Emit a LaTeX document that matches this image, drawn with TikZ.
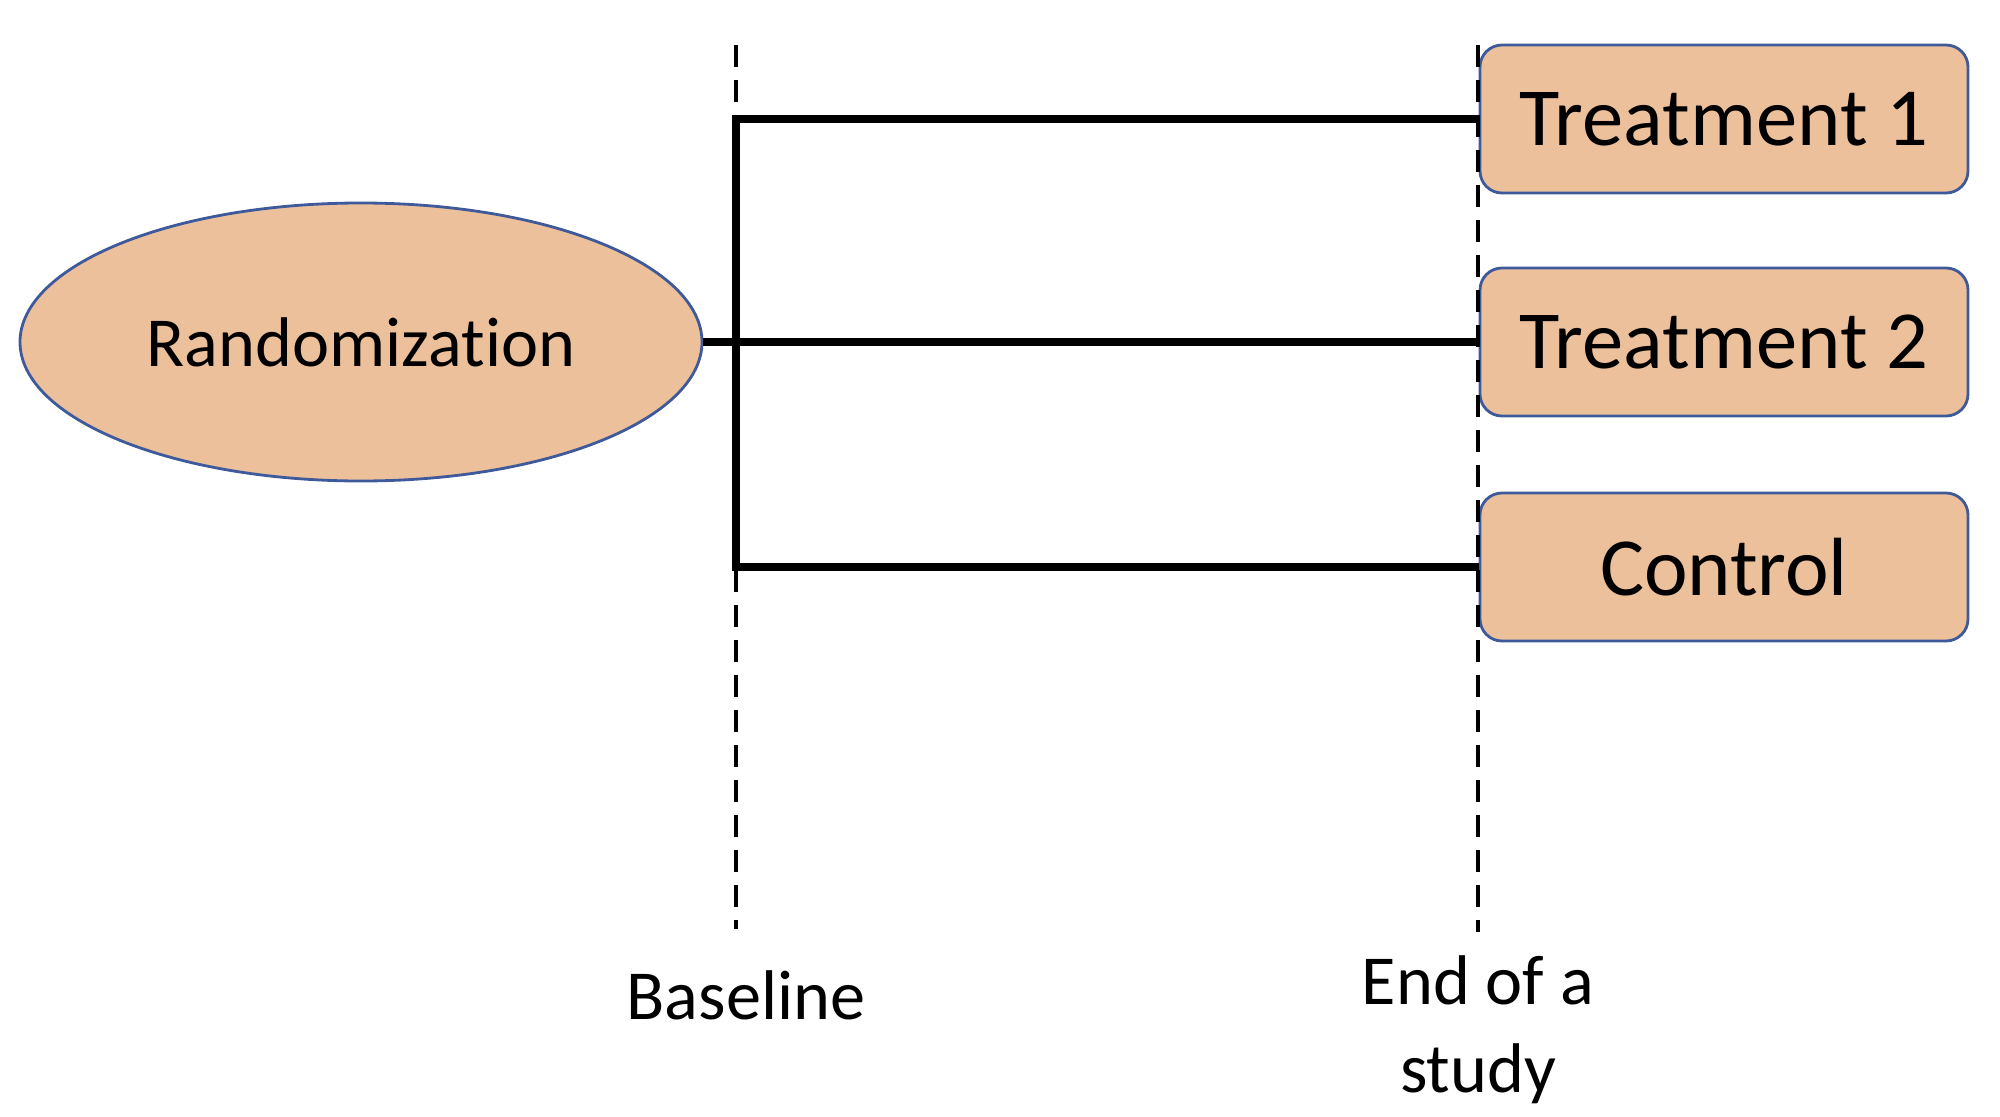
\documentclass[tikz,border=0pt]{standalone}
\usepackage{fontspec}
\setmainfont{Carlito}[Ligatures={NoCommon}]
\usetikzlibrary{shapes.geometric,positioning}
\definecolor{peach}{HTML}{EDC09C}
\definecolor{rim}{HTML}{3F5A9A}
\tikzset{
  arm/.style={rounded corners=0.22cm, draw=rim, fill=peach, line width=0.8pt, minimum width=4.88cm, minimum height=1.48cm, font=\fontsize{23.5}{28}\selectfont},
  guide/.style={line width=1.3pt, dash pattern=on 0.22cm off 0.13cm},
  link/.style={line width=2.3pt}
}
\begin{document}
\begin{tikzpicture}
          \useasboundingbox (0, 0) rectangle (20, 11.16);

          \node[ellipse, draw=rim, fill=peach, line width=0.8pt, minimum width=6.82cm, minimum height=2.78cm, font=\fontsize{20}{24}\selectfont] (rand) at (3.61, 7.74) {Randomization};

          \node[arm] (t1) at (17.24, 9.97) {Treatment 1};
          \node[arm] (t2) at (17.24, 7.74) {Treatment 2};
          \node[arm] (ctrl) at (17.24, 5.49) {Control};

          % time lines
          \coordinate (bTop) at (7.36, 10.71);
          \coordinate (bBot) at (7.36, 1.87);
          \coordinate (eTop) at (14.78, 10.71);
          \coordinate (eBot) at (14.78, 1.84);
          \draw[guide] (bTop) -- (bBot);
          \draw[guide] (eTop) -- (eBot);

          \node[font=\fontsize{20}{24}\selectfont] (base) at (7.46, 1.21) {Baseline};
          \node[font=\fontsize{20}{25}\selectfont, align=center] (end) at (14.78, 0.86) {End of a\\study};

          % bracket
          \coordinate (split) at (7.36, 7.74);
          \draw[link] (rand.east) -- (split);
          \draw[link] (t1.west) -| (split) |- (ctrl.west);
          \draw[link] (split) -- (t2.west);
        \end{tikzpicture}
\end{document}
